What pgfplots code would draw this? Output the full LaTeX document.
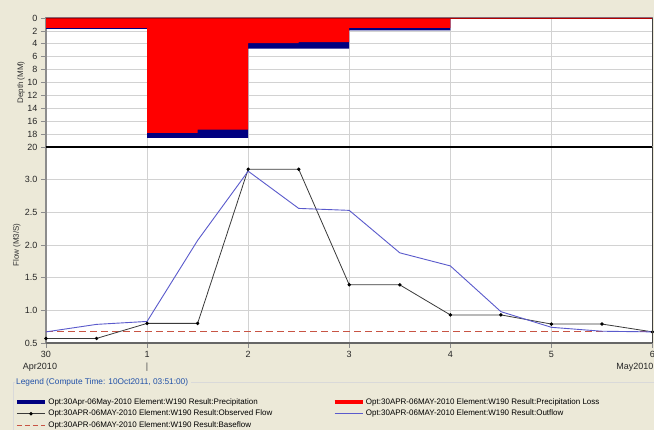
\documentclass[border=0pt]{standalone}
\usepackage{fontspec}
\setmainfont{Liberation Sans}
\usepackage{pgfplots}
\pgfplotsset{compat=1.18}

\definecolor{panel}{HTML}{ECE9D8}
\definecolor{precip}{HTML}{000080}
\definecolor{loss}{HTML}{FF0000}
\definecolor{outflowc}{HTML}{5A5ACC}
\definecolor{observed}{HTML}{3A3A3A}
\definecolor{baseflowc}{HTML}{C85444}
\definecolor{gridc}{HTML}{D2D2D2}
\definecolor{axisc}{HTML}{8C8C8C}
\definecolor{legblue}{HTML}{2050A8}

\pgfplotsset{
  hms/.style={
    scale only axis,
    width=606.5pt,
    xmin=0, xmax=6,
    xtick={0,...,6},
    grid=major,
    major grid style={gridc, line width=0.6pt},
    axis background/.style={fill=white},
    axis line style={axisc, line width=1.2pt},
    tick align=outside,
    major tick length=5pt,
    tick style={axisc, line width=0.6pt},
    ytick pos=left,
    xtick pos=bottom,
    ticklabel style={font=\fontsize{9}{10}\selectfont, text=black!85},
    /pgf/number format/assume math mode=true,
    label style={font=\fontsize{8}{9}\selectfont, text=black!80},
  },
}

\begin{document}
\begin{tikzpicture}
\clip (0pt,0pt) rectangle (654pt,430pt);
\fill[panel] (0pt,0pt) rectangle (654pt,430pt);

% depth panel
\begin{axis}[hms,
  at={(46pt,283pt)}, anchor=south west,
  height=129pt,
  y dir=reverse,
  ymin=0, ymax=20,
  ytick={0,2,...,20},
  xticklabels={},
  xtick style={draw=none},
  ylabel={Depth (MM)},
  ylabel style={at={(axis description cs:-0.041,0.5)}, anchor=center},
  after end axis/.code={
    \draw[black, line width=1.5pt] (rel axis cs:0,0) -- (rel axis cs:1,0);
    \draw[loss!70!black, line width=0.8pt] (rel axis cs:0,1) -- (rel axis cs:1,1);
    \draw[black!75, line width=0.8pt] (rel axis cs:1,0) -- (rel axis cs:1,1);
  },
]
\addplot[const plot, fill=precip, draw=none] coordinates {
  (0,1.7) (1,18.6) (2,4.75) (3,1.9) (4,0) (6,0)
} \closedcycle;
\addplot[const plot, fill=loss, draw=none] coordinates {
  (0,1.55) (1,17.8) (1.5,17.3) (2,3.9) (2.5,3.75) (3,1.55) (4,0) (6,0)
} \closedcycle;
\end{axis}

% flow panel
\begin{axis}[hms,
  at={(46pt,87pt)}, anchor=south west,
  height=196pt,
  ymin=0.5, ymax=3.5,
  ytick={0.5,1,1.5,2,2.5,3},
  yticklabel style={/pgf/number format/.cd, fixed, fixed zerofill, precision=1},
  xticklabels={30,1,2,3,4,5,6},
  ylabel={Flow (M3/S)},
  ylabel style={at={(axis description cs:-0.048,0.5)}, anchor=center},
  legend columns=2,
  legend cell align=left,
  legend image code/.code={
    \draw[mark repeat=2, mark phase=2, #1] plot coordinates {(0pt,0pt) (14pt,0pt) (28pt,0pt)};
  },
  legend style={
    at={(axis description cs:0,0)}, anchor=north west,
    xshift=-34pt, yshift=-51pt,
    draw=none, fill=none,
    font=\fontsize{8}{9}\selectfont,
    row sep=0pt,
    nodes={inner ysep=2.2pt, inner xsep=1.6pt},
    /tikz/every even column/.append style={column sep=6pt},
    /tikz/every odd column/.append style={column sep=0pt},
  },
  after end axis/.code={
    \draw[black, line width=1.5pt] (rel axis cs:0,1) -- (rel axis cs:1,1);
    \draw[black!60, line width=1.2pt] (rel axis cs:0,0) -- (rel axis cs:1,0);
    \draw[black!75, line width=0.8pt] (rel axis cs:1,0) -- (rel axis cs:1,1);
    \node[font=\fontsize{9}{10}\selectfont, text=black!85] at (axis cs:0,0.5) [yshift=-24pt, xshift=-6pt] {Apr2010};
    \node[font=\fontsize{9}{10}\selectfont, text=black!70] at (axis cs:1,0.5) [yshift=-24pt] {|};
    \node[font=\fontsize{9}{10}\selectfont, text=black!85, anchor=east, inner xsep=0.5pt] at (axis cs:6,0.5) [yshift=-24pt, xshift=1.5pt] {May2010};
  },
]
% baseflow
\addplot[color=baseflowc, line width=1pt, dash pattern=on 7pt off 4pt, forget plot] coordinates {
  (0,0.67) (6,0.67)
};
% observed flow
\addplot[color=observed, line width=0.8pt, mark=*, mark size=1.3pt, mark options={fill=black, draw=black}, forget plot] coordinates {
  (0,0.57) (0.5,0.57) (1,0.80) (1.5,0.80) (2,3.16) (2.5,3.16) (3,1.39)
  (3.5,1.39) (4,0.93) (4.5,0.93) (5,0.79) (5.5,0.79) (6,0.67)
};
% outflow
\addplot[color=outflowc, line width=0.9pt, forget plot] coordinates {
  (0,0.67) (0.5,0.785) (1,0.83) (1.5,2.07) (2,3.13) (2.5,2.56) (3,2.53)
  (3.5,1.88) (4,1.68) (4.5,0.98) (5,0.74) (5.5,0.68) (6,0.67)
};

\addlegendimage{color=precip, line width=3.5pt}
\addlegendentry{\makebox[277pt][l]{Opt:30Apr-06May-2010 Element:W190 Result:Precipitation}}
\addlegendimage{color=loss, line width=3.5pt}
\addlegendentry{Opt:30APR-06MAY-2010 Element:W190 Result:Precipitation Loss}
\addlegendimage{color=observed, line width=0.8pt, mark=*, mark size=1.3pt, mark options={fill=black, draw=black}}
\addlegendentry{\makebox[277pt][l]{Opt:30APR-06MAY-2010 Element:W190 Result:Observed Flow}}
\addlegendimage{color=outflowc, line width=1.1pt}
\addlegendentry{Opt:30APR-06MAY-2010 Element:W190 Result:Outflow}
\addlegendimage{color=baseflowc, line width=1pt, dash pattern=on 5pt off 3pt}
\addlegendentry{Opt:30APR-06MAY-2010 Element:W190 Result:Baseflow}
\end{axis}

% legend group box title
\node[anchor=west, text=legblue, font=\fontsize{8.3}{9}\selectfont, inner sep=1pt] (lt) at (15pt,47.3pt) {Legend (Compute Time: 10Oct2011, 03:51:00)};
\draw[white!70!gray, line width=0.6pt] (lt.east) ++(2pt,0) -- (654pt,47.3pt);
\draw[white!70!gray, line width=0.6pt] (15pt,47.3pt) -- (13pt,47.3pt) -- (13pt,0pt);
\end{tikzpicture}
\end{document}
